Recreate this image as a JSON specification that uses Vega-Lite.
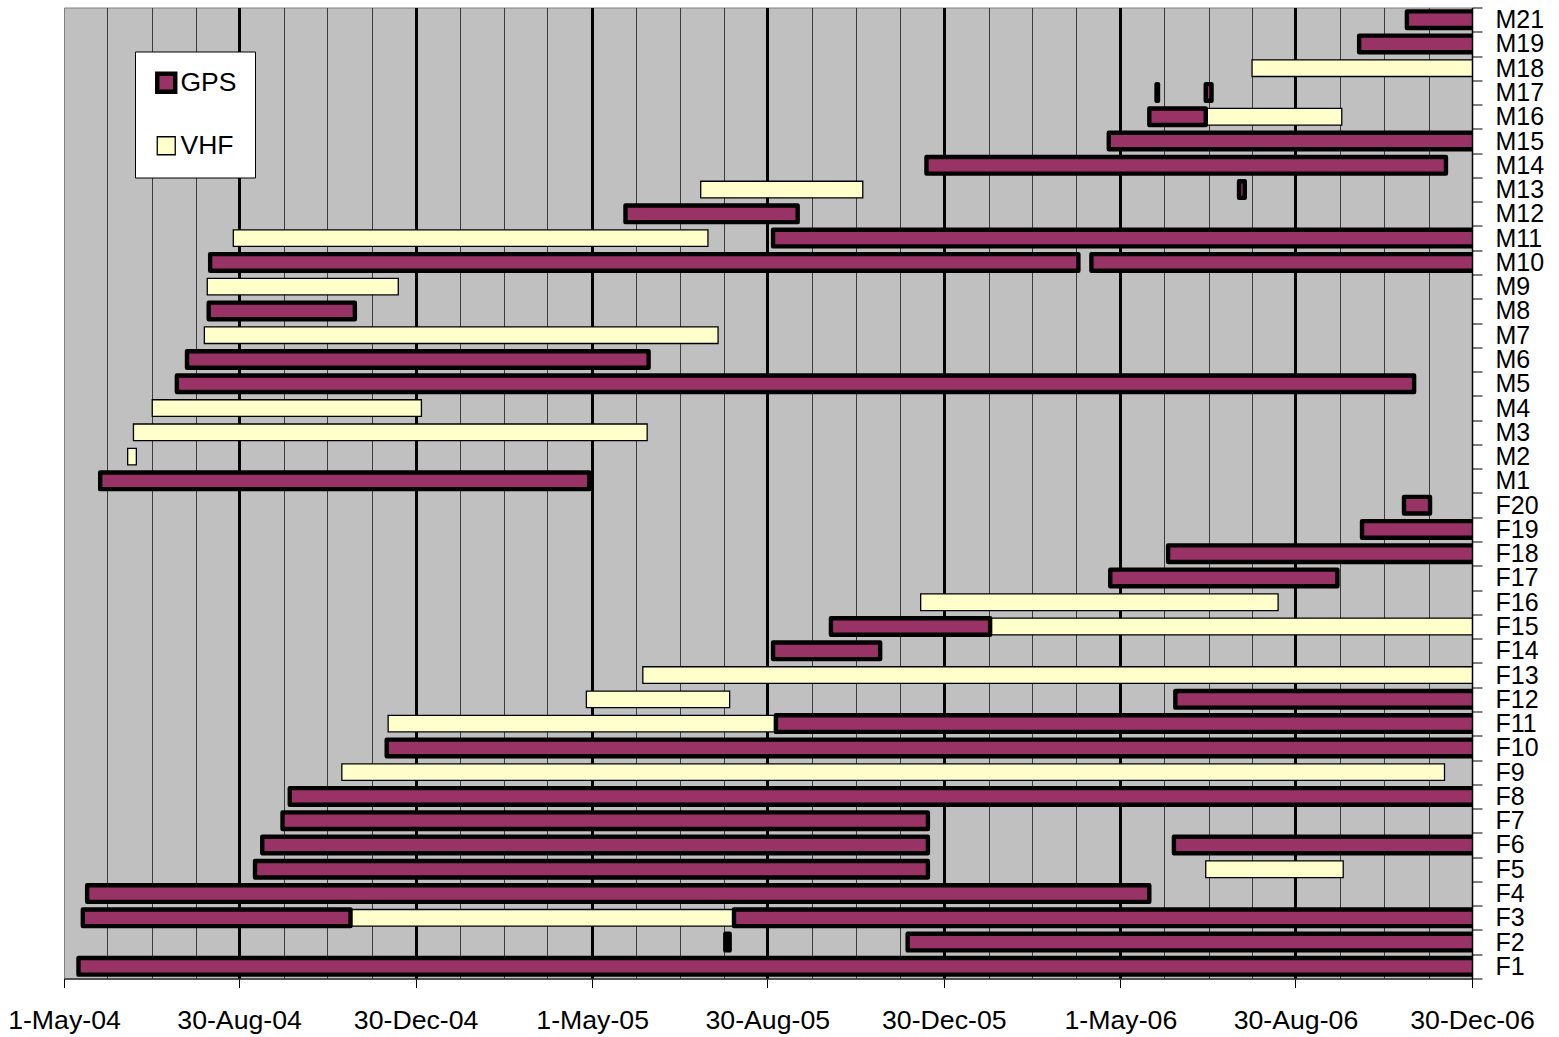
{
  "$schema": "https://vega.github.io/schema/vega-lite/v6.json",
  "width": 1408,
  "height": 971,
  "autosize": {"type": "none"},
  "padding": {"left": 64, "top": 7.5, "right": 87, "bottom": 58.5},
  "background": "white",
  "config": {
    "font": "Liberation Sans",
    "view": {"fill": "#C0C0C0", "stroke": "#808080", "strokeWidth": 1}
  },
  "data": {
    "values": [
      {"id": "M21", "type": "GPS", "start": "2006-11-15", "end": "2007-01-02"},
      {"id": "M19", "type": "GPS", "start": "2006-10-13", "end": "2007-01-02"},
      {"id": "M18", "type": "VHF", "start": "2006-07-31", "end": "2007-01-02"},
      {"id": "M17", "type": "GPS", "start": "2006-05-26", "end": "2006-05-27"},
      {"id": "M17", "type": "GPS", "start": "2006-06-29", "end": "2006-07-03"},
      {"id": "M16", "type": "GPS", "start": "2006-05-21", "end": "2006-06-29"},
      {"id": "M16", "type": "VHF", "start": "2006-06-30", "end": "2006-10-01"},
      {"id": "M15", "type": "GPS", "start": "2006-04-23", "end": "2007-01-02"},
      {"id": "M14", "type": "GPS", "start": "2005-12-18", "end": "2006-12-12"},
      {"id": "M13", "type": "GPS", "start": "2006-07-22", "end": "2006-07-26"},
      {"id": "M13", "type": "VHF", "start": "2005-07-15", "end": "2005-11-04"},
      {"id": "M12", "type": "GPS", "start": "2005-05-24", "end": "2005-09-20"},
      {"id": "M11", "type": "VHF", "start": "2004-08-26", "end": "2005-07-20"},
      {"id": "M11", "type": "GPS", "start": "2005-09-03", "end": "2007-01-02"},
      {"id": "M10", "type": "GPS", "start": "2004-08-10", "end": "2006-04-02"},
      {"id": "M10", "type": "GPS", "start": "2006-04-11", "end": "2007-01-02"},
      {"id": "M9", "type": "VHF", "start": "2004-08-08", "end": "2004-12-18"},
      {"id": "M8", "type": "GPS", "start": "2004-08-09", "end": "2004-11-18"},
      {"id": "M7", "type": "VHF", "start": "2004-08-06", "end": "2005-07-27"},
      {"id": "M6", "type": "GPS", "start": "2004-07-25", "end": "2005-06-09"},
      {"id": "M5", "type": "GPS", "start": "2004-07-18", "end": "2006-11-20"},
      {"id": "M4", "type": "VHF", "start": "2004-07-01", "end": "2005-01-03"},
      {"id": "M3", "type": "VHF", "start": "2004-06-18", "end": "2005-06-08"},
      {"id": "M2", "type": "VHF", "start": "2004-06-14", "end": "2004-06-20"},
      {"id": "M1", "type": "GPS", "start": "2004-05-26", "end": "2005-04-29"},
      {"id": "F20", "type": "GPS", "start": "2006-11-13", "end": "2006-12-01"},
      {"id": "F19", "type": "GPS", "start": "2006-10-15", "end": "2007-01-02"},
      {"id": "F18", "type": "GPS", "start": "2006-06-03", "end": "2007-01-02"},
      {"id": "F17", "type": "GPS", "start": "2006-04-24", "end": "2006-09-28"},
      {"id": "F16", "type": "VHF", "start": "2005-12-14", "end": "2006-08-18"},
      {"id": "F15", "type": "GPS", "start": "2005-10-13", "end": "2006-01-31"},
      {"id": "F15", "type": "VHF", "start": "2006-01-31", "end": "2007-01-02"},
      {"id": "F14", "type": "GPS", "start": "2005-09-03", "end": "2005-11-16"},
      {"id": "F13", "type": "VHF", "start": "2005-06-05", "end": "2007-01-02"},
      {"id": "F12", "type": "VHF", "start": "2005-04-27", "end": "2005-08-04"},
      {"id": "F12", "type": "GPS", "start": "2006-06-08", "end": "2007-01-02"},
      {"id": "F11", "type": "VHF", "start": "2004-12-11", "end": "2005-09-04"},
      {"id": "F11", "type": "GPS", "start": "2005-09-05", "end": "2007-01-02"},
      {"id": "F10", "type": "GPS", "start": "2004-12-10", "end": "2007-01-02"},
      {"id": "F9", "type": "VHF", "start": "2004-11-09", "end": "2006-12-11"},
      {"id": "F8", "type": "GPS", "start": "2004-10-04", "end": "2007-01-02"},
      {"id": "F7", "type": "GPS", "start": "2004-09-29", "end": "2005-12-19"},
      {"id": "F6", "type": "GPS", "start": "2004-09-15", "end": "2005-12-19"},
      {"id": "F6", "type": "GPS", "start": "2006-06-07", "end": "2007-01-02"},
      {"id": "F5", "type": "GPS", "start": "2004-09-10", "end": "2005-12-19"},
      {"id": "F5", "type": "VHF", "start": "2006-06-29", "end": "2006-10-02"},
      {"id": "F4", "type": "GPS", "start": "2004-05-17", "end": "2006-05-21"},
      {"id": "F3", "type": "GPS", "start": "2004-05-14", "end": "2004-11-15"},
      {"id": "F3", "type": "VHF", "start": "2004-11-15", "end": "2005-08-07"},
      {"id": "F3", "type": "GPS", "start": "2005-08-07", "end": "2007-01-02"},
      {"id": "F2", "type": "GPS", "start": "2005-08-01", "end": "2005-08-04"},
      {"id": "F2", "type": "GPS", "start": "2005-12-05", "end": "2007-01-02"},
      {"id": "F1", "type": "GPS", "start": "2004-05-11", "end": "2007-01-02"}
    ]
  },
  "encoding": {
    "y": {
      "field": "id",
      "type": "nominal",
      "scale": {
        "domain": ["M21", "M19", "M18", "M17", "M16", "M15", "M14", "M13", "M12", "M11", "M10", "M9", "M8", "M7", "M6", "M5", "M4", "M3", "M2", "M1",
                   "F20", "F19", "F18", "F17", "F16", "F15", "F14", "F13", "F12", "F11", "F10", "F9", "F8", "F7", "F6", "F5", "F4", "F3", "F2", "F1"],
        "paddingInner": 0,
        "paddingOuter": 0
      },
      "axis": {
        "orient": "right",
        "title": null,
        "grid": false,
        "tickBand": "extent",
        "tickSize": 10,
        "tickColor": "black",
        "tickWidth": 1,
        "domainColor": "black",
        "domainWidth": 1.5,
        "labelFontSize": 25,
        "labelPadding": 13,
        "labelColor": "black",
        "labelOverlap": false,
        "zindex": 1
      }
    },
    "x2": {"field": "end"},
    "color": {
      "field": "type",
      "type": "nominal",
      "scale": {"domain": ["GPS", "VHF"], "range": ["#993366", "#FFFFCC"]},
      "legend": {
        "title": null,
        "orient": "none",
        "legendX": 71,
        "legendY": 44,
        "fillColor": "white",
        "strokeColor": "black",
        "padding": 18,
        "rowPadding": 31,
        "symbolType": "square",
        "symbolSize": 324,
        "symbolStrokeColor": "black",
        "symbolStrokeWidth": 1.3,
        "symbolOpacity": 1,
        "labelFontSize": 26.5,
        "labelColor": "black",
        "labelOffset": 1,
        "encode": {
          "symbols": {
            "update": {
              "stroke": {"value": "black"},
              "strokeWidth": {"signal": "datum.value === 'GPS' ? 4.4 : 1.3"}
            }
          }
        }
      }
    }
  },
  "layer": [
    {
      "transform": [{"filter": "datum.type === 'VHF'"}],
      "mark": {"type": "bar", "size": 16.6, "stroke": "black", "strokeWidth": 1.3, "clip": true},
      "encoding": {
        "x": {
          "field": "start",
          "type": "temporal",
          "scale": {
            "type": "utc",
            "nice": false,
            "domain": [
              {"year": 2004, "month": "May", "date": 1, "utc": true},
              {"year": 2006, "month": "Dec", "date": 30, "utc": true}
            ]
          },
          "axis": {
            "orient": "bottom",
            "title": null,
            "grid": true,
            "gridColor": "#3c3c3c",
            "gridWidth": 1,
            "labels": false,
            "ticks": false,
            "domain": false,
            "values": [
              {"year": 2004, "month": "May", "date": 31, "utc": true},
              {"year": 2004, "month": "Jul", "date": 1, "utc": true},
              {"year": 2004, "month": "Jul", "date": 31, "utc": true},
              {"year": 2004, "month": "Sep", "date": 30, "utc": true},
              {"year": 2004, "month": "Oct", "date": 30, "utc": true},
              {"year": 2004, "month": "Nov", "date": 30, "utc": true},
              {"year": 2005, "month": "Jan", "date": 30, "utc": true},
              {"year": 2005, "month": "Mar", "date": 1, "utc": true},
              {"year": 2005, "month": "Mar", "date": 31, "utc": true},
              {"year": 2005, "month": "May", "date": 31, "utc": true},
              {"year": 2005, "month": "Jul", "date": 1, "utc": true},
              {"year": 2005, "month": "Jul", "date": 31, "utc": true},
              {"year": 2005, "month": "Sep", "date": 30, "utc": true},
              {"year": 2005, "month": "Oct", "date": 30, "utc": true},
              {"year": 2005, "month": "Nov", "date": 30, "utc": true},
              {"year": 2006, "month": "Jan", "date": 30, "utc": true},
              {"year": 2006, "month": "Mar", "date": 1, "utc": true},
              {"year": 2006, "month": "Mar", "date": 31, "utc": true},
              {"year": 2006, "month": "May", "date": 31, "utc": true},
              {"year": 2006, "month": "Jul", "date": 1, "utc": true},
              {"year": 2006, "month": "Jul", "date": 31, "utc": true},
              {"year": 2006, "month": "Sep", "date": 30, "utc": true},
              {"year": 2006, "month": "Oct", "date": 30, "utc": true},
              {"year": 2006, "month": "Nov", "date": 30, "utc": true}
            ]
          }
        }
      }
    },
    {
      "transform": [{"filter": "datum.type === 'GPS'"}],
      "mark": {"type": "bar", "size": 16.6, "stroke": "black", "strokeWidth": 4.4, "strokeJoin": "round", "clip": true},
      "encoding": {
        "x": {
          "field": "start",
          "type": "temporal",
          "scale": {
            "type": "utc",
            "nice": false,
            "domain": [
              {"year": 2004, "month": "May", "date": 1, "utc": true},
              {"year": 2006, "month": "Dec", "date": 30, "utc": true}
            ]
          },
          "axis": {
            "orient": "bottom",
            "title": null,
            "labelExpr": "utcFormat(datum.value, '%-d-%b-%y')",
            "grid": true,
            "gridColor": "black",
            "gridWidth": 3,
            "gridOpacity": {
              "condition": {
                "test": "(utcyear(datum.value) == 2004 && utcmonth(datum.value) == 4) || (utcyear(datum.value) == 2006 && utcmonth(datum.value) == 11)",
                "value": 0
              },
              "value": 1
            },
            "tickSize": 9,
            "tickColor": "black",
            "tickWidth": 1,
            "domainColor": "#333333",
            "domainWidth": 1.5,
            "labelFontSize": 26.7,
            "labelPadding": 20,
            "labelColor": "black",
            "labelFlush": false,
            "labelOverlap": false,
            "values": [
              {"year": 2004, "month": "May", "date": 1, "utc": true},
              {"year": 2004, "month": "Aug", "date": 30, "utc": true},
              {"year": 2004, "month": "Dec", "date": 30, "utc": true},
              {"year": 2005, "month": "May", "date": 1, "utc": true},
              {"year": 2005, "month": "Aug", "date": 30, "utc": true},
              {"year": 2005, "month": "Dec", "date": 30, "utc": true},
              {"year": 2006, "month": "May", "date": 1, "utc": true},
              {"year": 2006, "month": "Aug", "date": 30, "utc": true},
              {"year": 2006, "month": "Dec", "date": 30, "utc": true}
            ]
          }
        }
      }
    }
  ],
  "resolve": {"axis": {"x": "independent"}}
}
